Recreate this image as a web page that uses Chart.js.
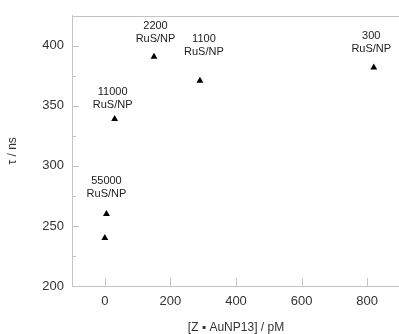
<!DOCTYPE html>
<html>
<head>
<meta charset="utf-8">
<script src="https://cdn.jsdelivr.net/npm/chart.js@4/dist/chart.umd.min.js"></script>
<style>
  html, body { margin: 0; padding: 0; background: #fff; overflow: hidden; }
  #wrap { width: 399px; height: 334px; overflow: hidden; position: relative; }
  canvas { display: block; }
</style>
</head>
<body>
<div id="wrap"><canvas id="c" width="404" height="334"></canvas></div>
<script>
// Data
const concentrations = [0, 5, 30, 150, 290, 820];          // [Z·AuNP13] / pM
const lifetimes      = [240, 260, 339, 391, 371, 382];      // τ / ns
const ratioLabels    = ['', '55000', '11000', '2200', '1100', '300']; // RuS/NP
const xTicks = [0, 200, 400, 600, 800];
const yMajorTicks = [200, 250, 300, 350, 400];

// Label placement (styling only, pixels relative to each point)
const labelStyle = {
  dy: [0, 33, 27, 31, 42, 31],
  dx: [0, 0, -2, 1.5, 4, -2.5],
  lineGap: 13
};

const axisColor = '#c4c4c4';
const FONT = 'Liberation Sans, Arial, Helvetica, sans-serif';

const annotate = {
  id: 'annotate',
  afterDatasetsDraw(chart) {
    const ctx = chart.ctx;
    const meta = chart.getDatasetMeta(0);
    ctx.save();
    ctx.fillStyle = '#222';
    ctx.font = '11px ' + FONT;
    ctx.textAlign = 'center';
    ctx.textBaseline = 'middle';
    meta.data.forEach((pt, i) => {
      if (!ratioLabels[i]) return;
      const x = pt.x + labelStyle.dx[i];
      const y = pt.y - labelStyle.dy[i];
      ctx.fillText(ratioLabels[i], x, y);
      ctx.fillText('RuS/NP', x, y + labelStyle.lineGap);
    });
    ctx.restore();
  },
  afterDraw(chart) {
    const ctx = chart.ctx;
    const a = chart.chartArea;
    const xs = chart.scales.x, ys = chart.scales.y;
    ctx.save();
    ctx.strokeStyle = axisColor;
    ctx.lineWidth = 1;
    // top frame line
    ctx.beginPath();
    ctx.moveTo(a.left, Math.round(a.top) + 0.5);
    ctx.lineTo(a.right, Math.round(a.top) + 0.5);
    ctx.stroke();
    // y ticks (inward), major every 50, minor every 25
    for (let v = ys.min; v <= ys.max + 0.001; v += 25) {
      const y = Math.round(ys.getPixelForValue(v)) + 0.5;
      const len = (v % 50 === 0) ? 7 : 4;
      ctx.beginPath();
      ctx.moveTo(a.left, y);
      ctx.lineTo(a.left + len, y);
      ctx.stroke();
    }
    // x ticks (inward)
    xTicks.forEach(v => {
      const x = Math.round(xs.getPixelForValue(v)) + 0.5;
      ctx.beginPath();
      ctx.moveTo(x, a.bottom);
      ctx.lineTo(x, a.bottom - 8);
      ctx.stroke();
    });
    ctx.restore();
  }
};

new Chart(document.getElementById('c'), {
  type: 'scatter',
  data: {
    datasets: [{
      data: concentrations.map((x, i) => ({ x: x, y: lifetimes[i] })),
      pointStyle: 'triangle',
      pointRadius: 4,
      pointBackgroundColor: '#000',
      pointBorderColor: '#000',
      pointBorderWidth: 0
    }]
  },
  options: {
    responsive: false,
    animation: false,
    layout: { padding: { top: 13, left: 0, right: 2, bottom: 0 } },
    plugins: { legend: { display: false }, tooltip: { enabled: false } },
    scales: {
      x: {
        type: 'linear',
        min: -100,
        max: 900,
        afterBuildTicks: s => { s.ticks = xTicks.map(v => ({ value: v })); },
        afterFit: s => { s.height = 48; },
        grid: { display: false, drawTicks: false },
        border: { display: true, color: axisColor, width: 1 },
        ticks: { color: '#333', font: { family: FONT, size: 13 }, padding: 8, maxRotation: 0 },
        title: {
          display: true,
          text: '[Z \u25AA AuNP13] / pM',
          color: '#333',
          font: { family: FONT, size: 12, lineHeight: 1 },
          padding: { top: 0, bottom: 0 }
        }
      },
      y: {
        type: 'linear',
        min: 200,
        max: 425,
        afterBuildTicks: s => { s.ticks = yMajorTicks.map(v => ({ value: v })); },
        afterFit: s => { s.width = 72; },
        grid: { display: false, drawTicks: false },
        border: { display: true, color: axisColor, width: 1 },
        ticks: { color: '#333', font: { family: FONT, size: 13 }, padding: 8 },
        title: {
          display: true,
          text: '\u03C4 / ns',
          color: '#333',
          font: { family: FONT, size: 12, lineHeight: 1 },
          padding: { top: 7, bottom: 0 }
        }
      }
    }
  },
  plugins: [annotate]
});
</script>
</body>
</html>
